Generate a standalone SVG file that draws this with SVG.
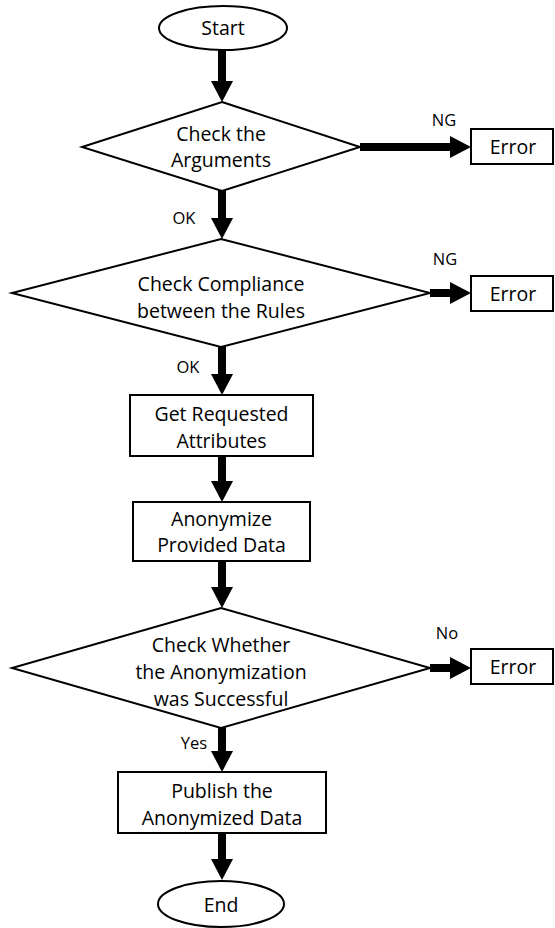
<svg xmlns="http://www.w3.org/2000/svg" width="555" height="928" viewBox="0 0 555 928">
  <style>
    .shape { fill: #ffffff; stroke: #000000; stroke-width: 2; }
    .flow { stroke: #000000; stroke-width: 8; fill: none; marker-end: url(#head); }
    .txt { font-family: "Open Sans", "Liberation Sans", Arial, sans-serif; font-size: 19.5px; fill: #000000; text-anchor: middle; }
    .lbl { font-family: "Open Sans", "Liberation Sans", Arial, sans-serif; font-size: 16.5px; fill: #000000; text-anchor: middle; }
  </style>
  <defs>
    <!-- filled arrowhead; its base sits at the end of the shaft -->
    <marker id="head" markerUnits="userSpaceOnUse" markerWidth="21" markerHeight="22" refX="0" refY="11" orient="auto" overflow="visible">
      <path d="M0,0 L21,11 L0,22 Z" fill="#000000"/>
    </marker>
  </defs>

  <rect width="555" height="928" fill="#ffffff"/>

  <!-- connectors -->
  <g id="connectors">
    <line class="flow" x1="222" y1="50" x2="222" y2="81"/>
    <line class="flow" x1="222" y1="190" x2="222" y2="218"/>
    <line class="flow" x1="222" y1="346" x2="222" y2="374"/>
    <line class="flow" x1="222" y1="456" x2="222" y2="481"/>
    <line class="flow" x1="222" y1="561" x2="222" y2="587"/>
    <line class="flow" x1="222" y1="727" x2="222" y2="751"/>
    <line class="flow" x1="222" y1="833" x2="222" y2="859"/>
    <line class="flow" x1="360" y1="147" x2="450" y2="147"/>
    <line class="flow" x1="430" y1="293" x2="450" y2="293"/>
    <line class="flow" x1="430" y1="668" x2="450" y2="668"/>
    <text class="lbl" x="184" y="224">OK</text>
    <text class="lbl" x="188" y="373">OK</text>
    <text class="lbl" x="194" y="749">Yes</text>
    <text class="lbl" x="444" y="126">NG</text>
    <text class="lbl" x="445" y="265">NG</text>
    <text class="lbl" x="447" y="639">No</text>
  </g>

  <g id="start">
    <ellipse class="shape" cx="223" cy="28" rx="64" ry="22"/>
    <text class="txt" x="223" y="35">Start</text>
  </g>

  <g id="check-arguments">
    <polygon class="shape" points="222,102 360,147 222,191 82,147"/>
    <text class="txt" x="221" y="141">Check the</text>
    <text class="txt" x="221" y="167">Arguments</text>
  </g>

  <g id="error-1">
    <rect class="shape" x="471" y="129" width="82" height="35"/>
    <text class="txt" x="513" y="154">Error</text>
  </g>

  <g id="check-compliance">
    <polygon class="shape" points="221,239 430,293 221,347 12,293"/>
    <text class="txt" x="221" y="291">Check Compliance</text>
    <text class="txt" x="221" y="318">between the Rules</text>
  </g>

  <g id="error-2">
    <rect class="shape" x="471" y="276" width="82" height="35"/>
    <text class="txt" x="513" y="301">Error</text>
  </g>

  <g id="get-attributes">
    <rect class="shape" x="130" y="395" width="183" height="61"/>
    <text class="txt" x="221.5" y="421">Get Requested</text>
    <text class="txt" x="221.5" y="448">Attributes</text>
  </g>

  <g id="anonymize">
    <rect class="shape" x="133" y="502" width="177" height="59"/>
    <text class="txt" x="221.5" y="526">Anonymize</text>
    <text class="txt" x="221.5" y="552">Provided Data</text>
  </g>

  <g id="check-success">
    <polygon class="shape" points="221,608 430,668 221,728 12,668"/>
    <text class="txt" x="221" y="652">Check Whether</text>
    <text class="txt" x="221" y="679">the Anonymization</text>
    <text class="txt" x="221" y="706">was Successful</text>
  </g>

  <g id="error-3">
    <rect class="shape" x="471" y="649" width="82" height="35"/>
    <text class="txt" x="513" y="674">Error</text>
  </g>

  <g id="publish">
    <rect class="shape" x="118" y="772" width="208" height="61"/>
    <text class="txt" x="222" y="798">Publish the</text>
    <text class="txt" x="222" y="825">Anonymized Data</text>
  </g>

  <g id="end">
    <ellipse class="shape" cx="221" cy="904" rx="63" ry="23"/>
    <text class="txt" x="221" y="912">End</text>
  </g>
</svg>
